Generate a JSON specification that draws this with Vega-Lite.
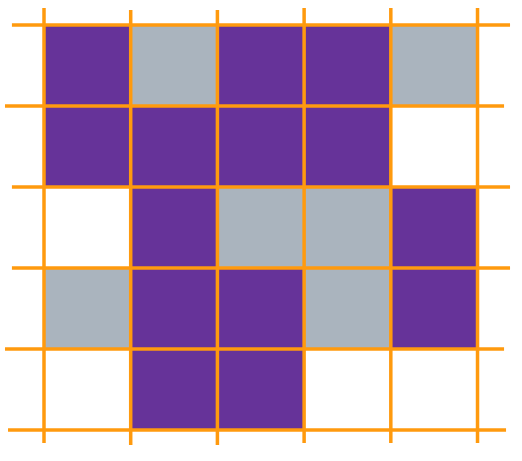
{
  "$schema": "https://vega.github.io/schema/vega-lite/v6.json",
  "width": 522,
  "height": 461,
  "autosize": "none",
  "padding": 0,
  "background": "white",
  "config": {"view": {"stroke": null}},
  "datasets": {
    "cells": [
      {"row": 0, "row_end": 1, "col": 0, "col_end": 1, "state": "filled"},
      {"row": 0, "row_end": 1, "col": 1, "col_end": 2, "state": "partial"},
      {"row": 0, "row_end": 1, "col": 2, "col_end": 3, "state": "filled"},
      {"row": 0, "row_end": 1, "col": 3, "col_end": 4, "state": "filled"},
      {"row": 0, "row_end": 1, "col": 4, "col_end": 5, "state": "partial"},
      {"row": 1, "row_end": 2, "col": 0, "col_end": 1, "state": "filled"},
      {"row": 1, "row_end": 2, "col": 1, "col_end": 2, "state": "filled"},
      {"row": 1, "row_end": 2, "col": 2, "col_end": 3, "state": "filled"},
      {"row": 1, "row_end": 2, "col": 3, "col_end": 4, "state": "filled"},
      {"row": 1, "row_end": 2, "col": 4, "col_end": 5, "state": "empty"},
      {"row": 2, "row_end": 3, "col": 0, "col_end": 1, "state": "empty"},
      {"row": 2, "row_end": 3, "col": 1, "col_end": 2, "state": "filled"},
      {"row": 2, "row_end": 3, "col": 2, "col_end": 3, "state": "partial"},
      {"row": 2, "row_end": 3, "col": 3, "col_end": 4, "state": "partial"},
      {"row": 2, "row_end": 3, "col": 4, "col_end": 5, "state": "filled"},
      {"row": 3, "row_end": 4, "col": 0, "col_end": 1, "state": "partial"},
      {"row": 3, "row_end": 4, "col": 1, "col_end": 2, "state": "filled"},
      {"row": 3, "row_end": 4, "col": 2, "col_end": 3, "state": "filled"},
      {"row": 3, "row_end": 4, "col": 3, "col_end": 4, "state": "partial"},
      {"row": 3, "row_end": 4, "col": 4, "col_end": 5, "state": "filled"},
      {"row": 4, "row_end": 5, "col": 0, "col_end": 1, "state": "empty"},
      {"row": 4, "row_end": 5, "col": 1, "col_end": 2, "state": "filled"},
      {"row": 4, "row_end": 5, "col": 2, "col_end": 3, "state": "filled"},
      {"row": 4, "row_end": 5, "col": 3, "col_end": 4, "state": "empty"},
      {"row": 4, "row_end": 5, "col": 4, "col_end": 5, "state": "empty"}
    ],
    "vlines": [
      {"pos": 0, "start": -0.21, "end": 5.16},
      {"pos": 1, "start": -0.185, "end": 5.185},
      {"pos": 2, "start": -0.185, "end": 5.185},
      {"pos": 3, "start": -0.21, "end": 5.16},
      {"pos": 4, "start": -0.21, "end": 5.16},
      {"pos": 5, "start": -0.21, "end": 5.16}
    ],
    "hlines": [
      {"pos": 0, "start": -0.37, "end": 5.375},
      {"pos": 1, "start": -0.45, "end": 5.306},
      {"pos": 2, "start": -0.37, "end": 5.375},
      {"pos": 3, "start": -0.37, "end": 5.375},
      {"pos": 4, "start": -0.45, "end": 5.306},
      {"pos": 5, "start": -0.415, "end": 5.329}
    ]
  },
  "layer": [
    {
      "data": {"name": "cells"},
      "mark": {"type": "rect"},
      "encoding": {
        "x": {"field": "col", "type": "quantitative", "scale": {"domain": [-0.5075, 5.513], "nice": false, "zero": false}, "axis": null},
        "x2": {"field": "col_end"},
        "y": {"field": "row", "type": "quantitative", "scale": {"domain": [-0.3086, 5.3827], "nice": false, "zero": false, "reverse": true}, "axis": null},
        "y2": {"field": "row_end"},
        "color": {"field": "state", "type": "nominal", "scale": {"domain": ["filled", "partial", "empty"], "range": ["#663399", "#aab4be", "#ffffff"]}, "legend": null}
      }
    },
    {
      "data": {"name": "vlines"},
      "mark": {"type": "rule", "color": "#ff9a0e", "strokeWidth": 3.5},
      "encoding": {
        "x": {"field": "pos", "type": "quantitative"},
        "y": {"field": "start", "type": "quantitative"},
        "y2": {"field": "end"}
      }
    },
    {
      "data": {"name": "hlines"},
      "mark": {"type": "rule", "color": "#ff9a0e", "strokeWidth": 3.5},
      "encoding": {
        "y": {"field": "pos", "type": "quantitative"},
        "x": {"field": "start", "type": "quantitative"},
        "x2": {"field": "end"}
      }
    }
  ]
}
